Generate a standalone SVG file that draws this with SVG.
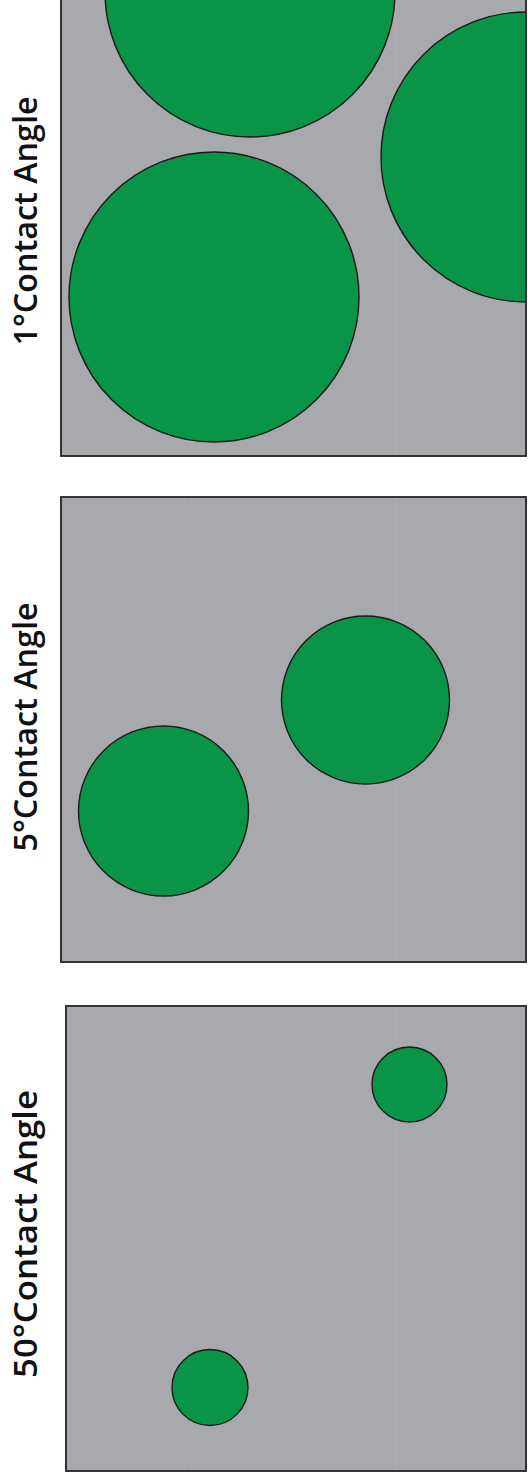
<svg xmlns="http://www.w3.org/2000/svg" width="528" height="1482" viewBox="0 0 528 1482">
<style>
.bg{fill:#a7a9ac;stroke:#2d2d2d;stroke-width:1.6}
.seam{stroke:#aeaeb3;stroke-width:1.2}
.drop{fill:#0a9447;stroke:#1a1a1a;stroke-width:1.4}
.lbl{font-family:"Open Sans","Liberation Sans",sans-serif;font-size:33px;font-weight:600;fill:#111;text-anchor:middle}
</style>
<defs>
<clipPath id="c1"><rect x="61" y="-2" width="465" height="458"/></clipPath>
<clipPath id="c2"><rect x="61" y="497" width="465" height="465"/></clipPath>
<clipPath id="c3"><rect x="66" y="1006" width="460" height="465"/></clipPath>
</defs>
<g id="panel1">
<rect class="bg" x="61" y="-2" width="465" height="458"/>
<g clip-path="url(#c1)">
<line class="seam" x1="192" y1="0" x2="192" y2="455"/>
<line class="seam" x1="396" y1="0" x2="396" y2="455"/>
<circle class="drop" cx="250" cy="-8" r="145"/>
<circle class="drop" cx="214" cy="297" r="145"/>
<circle class="drop" cx="526" cy="157" r="145"/>
</g>
<rect x="61" y="-2" width="465" height="458" fill="none" stroke="#2d2d2d" stroke-width="1.6"/>
<text class="lbl" transform="translate(37,221) rotate(-90)" textLength="249" lengthAdjust="spacingAndGlyphs">1°Contact Angle</text>
</g>
<g id="panel2">
<rect class="bg" x="61" y="497" width="465" height="465"/>
<g clip-path="url(#c2)">
<line class="seam" x1="192" y1="497" x2="192" y2="962"/>
<line class="seam" x1="396" y1="497" x2="396" y2="962"/>
<circle class="drop" cx="163.5" cy="811" r="85"/>
<circle class="drop" cx="365.5" cy="700" r="84"/>
</g>
<rect x="61" y="497" width="465" height="465" fill="none" stroke="#2d2d2d" stroke-width="1.6"/>
<text class="lbl" transform="translate(37,727) rotate(-90)" textLength="249" lengthAdjust="spacingAndGlyphs">5°Contact Angle</text>
</g>
<g id="panel3">
<rect class="bg" x="66" y="1006" width="460" height="465"/>
<g clip-path="url(#c3)">
<line class="seam" x1="192" y1="1006" x2="192" y2="1471"/>
<line class="seam" x1="396" y1="1006" x2="396" y2="1471"/>
<circle class="drop" cx="409.5" cy="1084.5" r="37.5"/>
<circle class="drop" cx="210" cy="1387.5" r="38"/>
</g>
<rect x="66" y="1006" width="460" height="465" fill="none" stroke="#2d2d2d" stroke-width="1.6"/>
<text class="lbl" transform="translate(37,1234) rotate(-90)" textLength="288" lengthAdjust="spacingAndGlyphs">50°Contact Angle</text>
</g>
<g id="connectors"/>
</svg>
